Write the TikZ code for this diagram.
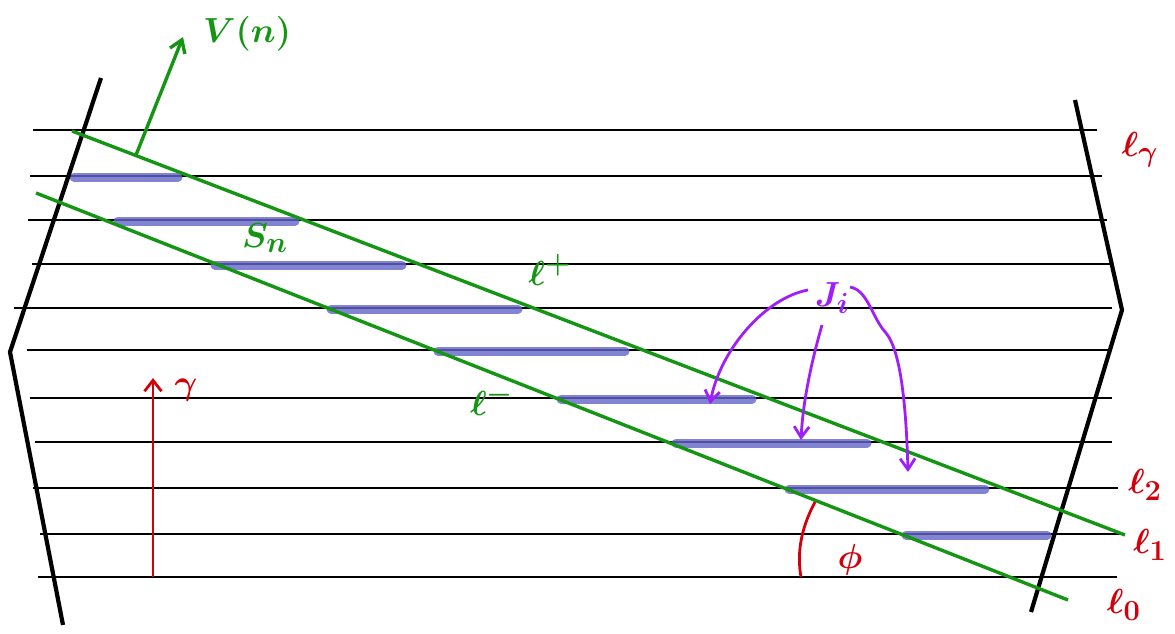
\documentclass[tikz,border=0pt]{standalone}
\usepackage{graphicx}
\usetikzlibrary{arrows.meta}
\definecolor{gr}{RGB}{20,150,20}
\definecolor{rd}{RGB}{210,0,10}
\definecolor{pu}{RGB}{160,30,250}
\definecolor{bl}{RGB}{100,100,200}
\newcommand{\hlab}[1]{\scalebox{1.4}{\Huge\boldmath$#1$}}
\tikzset{
  hline/.style={black,line width=1.8pt},
  wall/.style={black,line width=4.2pt,line join=miter},
  band/.style={bl,line width=9pt,opacity=0.8,line cap=round},
  gline/.style={gr,line width=3.4pt},
  parr/.style={pu,line width=2.8pt,-{Straight Barb[length=11pt,width=15pt]}},
  lab/.style={inner sep=0pt},
}
\begin{document}
\begin{tikzpicture}[x=1pt,y=-1pt]
\useasboundingbox (0,0) rectangle (1175,634);
% horizontal lines
\foreach \y/\a/\b in {130/33/1097,176/30/1102,220/28/1107,264/32/1112,308/14/1112,350/27/1112,398/30/1112,442/35/1112,488/33/1118,534/40/1120,577/38/1117}
  \draw[hline] (\a,\y) -- (\b,\y);
% blue bands
\foreach \y/\a/\b in {176/74/178,220/118/295,264/215/402,308/331/518,350/438/625,398/561/752,442/676/867,488/789/985,534/906/1047}
  \draw[band] (\a,\y+1) -- (\b,\y+1);
% walls
\draw[wall] (101,78) -- (10,352) -- (63,625);
\draw[wall] (1075,100) -- (1122,310) -- (1031,612);
% green lines
\coordinate (lpA) at (72,131);
\coordinate (lpB) at (1125,535);
\coordinate (lmA) at (36,193);
\coordinate (lmB) at (1068,600);
\draw[gline] (lpA) -- (lpB);
\draw[gline] (lmA) -- (lmB);
\coordinate (vfoot) at (136,155);
\coordinate (vtip) at (183,37);
\draw[gline,-{Straight Barb[length=12pt,width=16pt]}] (vfoot) -- (vtip);
\node[lab,text=gr,anchor=west] (vn) at (203,34) {\hlab{V(n)}};
\node[lab,text=gr] (sn) at (265,238) {\hlab{S_n}};
\node[lab,text=gr] (lp) at (550,270) {\hlab{\ell^{+}}};
\node[lab,text=gr] (lm) at (492,400) {\hlab{\ell^{-}}};
% labels l
\node[lab,text=rd] (lg) at (1140,150) {\hlab{\ell_\gamma}};
\node[lab,text=rd] (l2) at (1145,485) {\hlab{\ell_2}};
\node[lab,text=rd] (l1) at (1150,545) {\hlab{\ell_1}};
\node[lab,text=rd] (l0) at (1124,605) {\hlab{\ell_0}};
% gamma arrow
\coordinate (ga) at (153,577);
\coordinate (gb) at (153,378);
\draw[rd,line width=2.8pt,-{Straight Barb[length=11pt,width=17pt]}] (ga) -- (gb);
\node[lab,text=rd] (gam) at (186,390) {\hlab{\gamma}};
% phi
\coordinate (pa) at (815,502);
\coordinate (pb) at (801,577);
\draw[rd,line width=2.8pt] (pa) .. controls (800,530) and (797,555) .. (pb);
\node[lab,text=rd] (phi) at (850,560) {\hlab{\phi}};
% J_i
\node[lab,text=pu] (ji) at (832,298) {\hlab{J_i}};
\coordinate (j1) at (710,404);
\coordinate (j2) at (801,440);
\coordinate (j3) at (908,472);
\draw[parr] (808,290) .. controls (765,298) and (720,350) .. (j1);
\draw[parr] (822,325) .. controls (812,360) and (803,400) .. (j2);
\draw[parr] (850,287) .. controls (868,290) and (872,318) .. (886,333) .. controls (900,350) and (906,400) .. (j3);
\end{tikzpicture}
\end{document}
